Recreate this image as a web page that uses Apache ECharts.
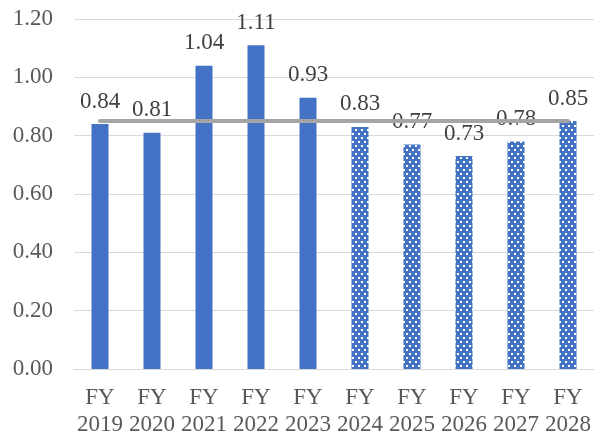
<!DOCTYPE html>
<html>
<head>
<meta charset="utf-8">
<script src="https://cdn.jsdelivr.net/npm/echarts@6/dist/echarts.min.js"></script>
<style>
html,body{margin:0;padding:0;background:#fff;}
#chart{width:597px;height:439px;}
</style>
</head>
<body>
<div id="chart"></div>
<script>
// Fiscal years (actuals through FY2023, projections afterwards)
const categories = ['FY\n2019','FY\n2020','FY\n2021','FY\n2022','FY\n2023','FY\n2024','FY\n2025','FY\n2026','FY\n2027','FY\n2028'];
const values = [0.84, 0.81, 1.04, 1.11, 0.93, 0.83, 0.77, 0.73, 0.78, 0.85];
const projected = [false, false, false, false, false, true, true, true, true, true];
const benchmark = [0.85, 0.85, 0.85, 0.85, 0.85, 0.85, 0.85, 0.85, 0.85, 0.85];
const yTicks = [0, 0.2, 0.4, 0.6, 0.8, 1.0, 1.2];

const BLUE = '#4472C4';
const FONT = '"Liberation Serif", "Times New Roman", serif';

// Dotted fill for projected years
function dotPattern() {
  const c = document.createElement('canvas');
  c.width = 6; c.height = 8;
  const ctx = c.getContext('2d');
  ctx.fillStyle = BLUE;
  ctx.fillRect(0, 0, 6, 8);
  ctx.fillStyle = '#ffffff';
  ctx.fillRect(1, 1, 2, 2);
  ctx.fillRect(4, 5, 2, 2);
  return c;
}
const pattern = { image: dotPattern(), repeat: 'repeat' };

const chart = echarts.init(document.getElementById('chart'), null, { renderer: 'canvas' });
chart.setOption({
  animation: false,
  grid: { left: 74, right: 3, top: 19, bottom: 70, containLabel: false },
  xAxis: {
    type: 'category',
    data: categories,
    axisLine: { lineStyle: { color: '#D9D9D9', width: 1 } },
    axisTick: { show: false },
    axisLabel: { color: '#595959', fontFamily: FONT, fontSize: 23, lineHeight: 27, margin: 15, interval: 0 }
  },
  yAxis: {
    type: 'value',
    min: yTicks[0],
    max: yTicks[yTicks.length - 1],
    interval: 0.2,
    axisLine: { show: false },
    axisTick: { show: false },
    splitLine: { lineStyle: { color: '#D9D9D9', width: 1 } },
    axisLabel: { color: '#595959', fontFamily: FONT, fontSize: 23, margin: 21, formatter: v => v.toFixed(2) }
  },
  series: [
    {
      type: 'bar',
      barWidth: 17,
      data: values.map((v, i) => ({ value: v, itemStyle: { color: projected[i] ? pattern : BLUE } })),
      label: {
        show: true, position: 'top', distance: 11,
        color: '#404040', fontFamily: FONT, fontSize: 23,
        formatter: p => p.value.toFixed(2)
      },
      z: 2
    },
    {
      type: 'line',
      data: benchmark,
      symbol: 'none',
      lineStyle: { color: '#A5A5A5', width: 4, cap: 'round' },
      z: 3
    }
  ]
});
</script>
</body>
</html>
